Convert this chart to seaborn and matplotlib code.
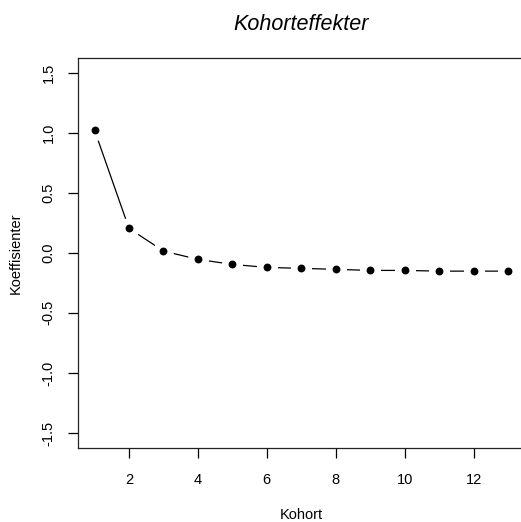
import matplotlib
matplotlib.use("Agg")
import matplotlib.pyplot as plt
import seaborn as sns
import pandas as pd

kohort = [1, 2, 3, 4, 5, 6, 7, 8, 9, 10, 11, 12, 13]
koeffisienter = [1.02, 0.203, 0.014, -0.055, -0.097, -0.122, -0.130, -0.138,
                 -0.147, -0.147, -0.153, -0.153, -0.153]
xticks = [2, 4, 6, 8, 10, 12]
yticks = [-1.5, -1.0, -0.5, 0.0, 0.5, 1.0, 1.5]

df = pd.DataFrame({"Kohort": kohort, "Koeffisienter": koeffisienter})

sns.set_style("white")
plt.rcParams['font.family'] = ['Liberation Sans', 'DejaVu Sans']
plt.rcParams.update({"text.color": "black", "axes.labelcolor": "black",
                     "xtick.color": "black", "ytick.color": "black"})

fig = plt.figure(figsize=(5.21, 5.22), dpi=100)
ax = fig.add_axes([78 / 521, 1 - 448 / 522, (524.5 - 78) / 521, (448 - 57.5) / 522])

sns.lineplot(data=df, x="Kohort", y="Koeffisienter", color="black", lw=0.9, ax=ax, zorder=2)
sns.scatterplot(data=df, x="Kohort", y="Koeffisienter", color="white", s=230,
                linewidth=0, ax=ax, zorder=3)
sns.scatterplot(data=df, x="Kohort", y="Koeffisienter", color="black", s=32,
                linewidth=0, ax=ax, zorder=4)

ax.set_xlim(0.52, 13.48)
ax.set_ylim(-1.625, 1.625)
ax.set_xticks(xticks)
ax.set_xticklabels([str(t) for t in xticks], fontsize=10.5)
ax.set_yticks(yticks)
ax.set_yticklabels([f"{t:.1f}" for t in yticks], fontsize=10.5, rotation=90, va="center")
ax.tick_params(axis="both", direction="out", length=7, width=0.9, color="black",
               labelcolor="black", bottom=True, left=True, pad=9)
ax.tick_params(axis="x", pad=11)

for sp in ax.spines.values():
    sp.set_color("#222222")
    sp.set_linewidth(0.9)
    sp.set_visible(True)

ax.set_xlabel("Kohort", fontsize=10.5, labelpad=15, color="black")
ax.set_ylabel("Koeffisienter", fontsize=10.5, labelpad=14, color="black")
ax.set_title("Kohorteffekter", fontsize=15.5, fontstyle="italic", pad=20, color="black")

fig.savefig("out.png", dpi=100)
